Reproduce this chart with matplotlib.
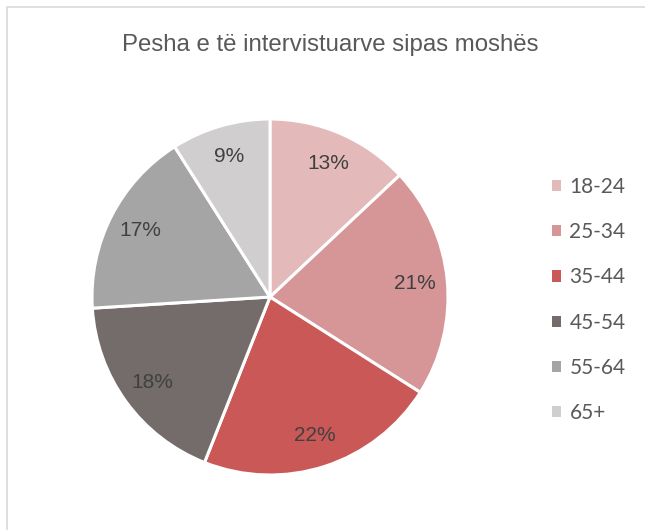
import matplotlib
matplotlib.use("Agg")
import matplotlib.pyplot as plt
from matplotlib.patches import Rectangle, Patch

categories = ["18-24", "25-34", "35-44", "45-54", "55-64", "65+"]
values = [13, 21, 22, 18, 17, 9]
colors = ["#E3B9BA", "#D69596", "#C95856", "#736C6A", "#A5A5A5", "#D0CECF"]
title = "Pesha e të intervistuarve sipas moshës"

W, H = 645, 530
fig = plt.figure(figsize=(W / 100, H / 100), dpi=100)
fig.patches.append(Rectangle((6.5 / W, -10 / H), 700 / W, (H - 7 + 10) / H, transform=fig.transFigure,
                             fill=False, edgecolor="#D9D9D9", linewidth=1.2))

cx, cy, r = 270, 297, 178
ax = fig.add_axes([(cx - r) / W, (H - cy - r) / H, 2 * r / W, 2 * r / H])
wedges, texts, autotexts = ax.pie(values, colors=colors, startangle=90, counterclock=False,
                                  autopct=lambda p: f"{p:.0f}%", pctdistance=0.82,
                                  wedgeprops=dict(edgecolor="white", linewidth=2.2),
                                  textprops=dict(color="#404040", fontsize=15, family="Liberation Sans"))
for w in wedges:
    w.set_clip_on(False)
ax.set_xlim(-1, 1)
ax.set_ylim(-1, 1)
ax.set_aspect("equal")

fig.text(330 / W, 1 - 45 / H, title, ha="center", va="center", fontsize=17.3,
         color="#595959", family="Liberation Sans")

handles = [Patch(facecolor=c, edgecolor="none") for c in colors]
leg = fig.legend(handles, categories, loc="center left", bbox_to_anchor=(533 / W, 1 - 300 / H),
                 frameon=False, labelspacing=1.21, handlelength=0.45, handleheight=0.45,
                 handletextpad=0.4, prop=dict(family="Lato", size=15))
for t in leg.get_texts():
    t.set_color("#595959")

fig.savefig("out.png", dpi=100)
